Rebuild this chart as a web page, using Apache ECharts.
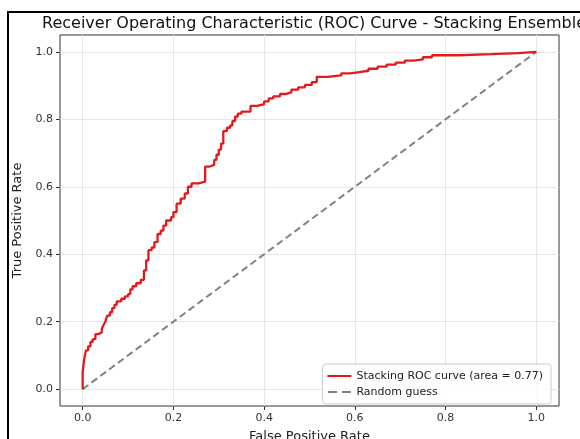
<!DOCTYPE html>
<html>
<head>
<meta charset="utf-8">
<script src="https://cdn.jsdelivr.net/npm/echarts@6/dist/echarts.min.js"></script>
<style>
  html, body { margin: 0; padding: 0; background: #fff; }
  #chart { width: 580px; height: 439px; }
</style>
</head>
<body>
<div id="chart"></div>
<script>
// ROC curve (staircase corners)
var rocFpr = [0, 0, 0.003, 0.003, 0.007, 0.007, 0.012, 0.012, 0.017, 0.017, 0.022, 0.022, 0.028, 0.028,
  0.034, 0.034, 0.042, 0.042, 0.046, 0.046, 0.05, 0.05, 0.054, 0.054, 0.06, 0.06, 0.065, 0.065,
  0.07, 0.07, 0.075, 0.075, 0.085, 0.085, 0.093, 0.093, 0.1, 0.1, 0.105, 0.105, 0.11, 0.11,
  0.118, 0.118, 0.128, 0.128, 0.135, 0.135, 0.14, 0.14, 0.145, 0.145, 0.152, 0.152, 0.158, 0.158,
  0.165, 0.165, 0.172, 0.172, 0.178, 0.178, 0.184, 0.184, 0.195, 0.195, 0.2, 0.2, 0.207, 0.207,
  0.216, 0.216, 0.225, 0.225, 0.232, 0.232, 0.24, 0.24, 0.255, 0.255, 0.27, 0.27, 0.28, 0.28,
  0.29, 0.29, 0.295, 0.295, 0.3, 0.3, 0.305, 0.305, 0.31, 0.31, 0.318, 0.318, 0.325, 0.325,
  0.33, 0.33, 0.336, 0.336, 0.342, 0.342, 0.35, 0.35, 0.37, 0.37, 0.385, 0.385, 0.4, 0.4,
  0.41, 0.41, 0.42, 0.42, 0.435, 0.435, 0.447, 0.447, 0.46, 0.46, 0.475, 0.475, 0.49, 0.49,
  0.505, 0.505, 0.516, 0.516, 0.54, 0.54, 0.57, 0.57, 0.59, 0.59, 0.61, 0.61, 0.63, 0.63,
  0.65, 0.65, 0.67, 0.67, 0.69, 0.69, 0.71, 0.71, 0.73, 0.73, 0.75, 0.75, 0.77, 0.77,
  0.83, 0.83, 0.9, 0.9, 0.96, 0.96, 1];
var rocTpr = [0, 0.05, 0.05, 0.086, 0.086, 0.115, 0.115, 0.127, 0.127, 0.14, 0.14, 0.148, 0.148, 0.163,
  0.163, 0.168, 0.168, 0.178, 0.178, 0.19, 0.19, 0.2, 0.2, 0.218, 0.218, 0.228, 0.228, 0.24,
  0.24, 0.25, 0.25, 0.26, 0.26, 0.268, 0.268, 0.275, 0.275, 0.282, 0.282, 0.296, 0.296, 0.305,
  0.305, 0.314, 0.314, 0.324, 0.324, 0.352, 0.352, 0.382, 0.382, 0.412, 0.412, 0.42, 0.42, 0.436,
  0.436, 0.46, 0.46, 0.47, 0.47, 0.485, 0.485, 0.5, 0.5, 0.51, 0.51, 0.525, 0.525, 0.55,
  0.55, 0.565, 0.565, 0.58, 0.58, 0.6, 0.6, 0.61, 0.61, 0.615, 0.615, 0.66, 0.66, 0.665,
  0.665, 0.68, 0.68, 0.695, 0.695, 0.71, 0.71, 0.728, 0.728, 0.765, 0.765, 0.775, 0.775, 0.782,
  0.782, 0.795, 0.795, 0.808, 0.808, 0.817, 0.817, 0.823, 0.823, 0.84, 0.84, 0.845, 0.845, 0.853,
  0.853, 0.862, 0.862, 0.868, 0.868, 0.875, 0.875, 0.88, 0.88, 0.888, 0.888, 0.895, 0.895, 0.902,
  0.902, 0.91, 0.91, 0.926, 0.926, 0.93, 0.93, 0.936, 0.936, 0.94, 0.94, 0.944, 0.944, 0.95,
  0.95, 0.956, 0.956, 0.962, 0.962, 0.968, 0.968, 0.974, 0.974, 0.978, 0.978, 0.984, 0.984, 0.99,
  0.99, 0.993, 0.993, 0.996, 0.996, 1, 1];

// chance line
var diagFpr = [0, 1];
var diagTpr = [0, 1];

var tickValues = [0, 0.2, 0.4, 0.6, 0.8, 1.0];

var rocName = 'Stacking ROC curve (area = 0.77)';
var diagName = 'Random guess';

function pairs(xs, ys) {
  return xs.map(function (x, i) { return [x, ys[i]]; });
}

var myChart = echarts.init(document.getElementById('chart'));

var font = 'DejaVu Sans';

option = {
  animation: false,
  backgroundColor: '#fff',
  title: {
    text: 'Receiver Operating Characteristic (ROC) Curve - Stacking Ensemble',
    left: 309,
    top: 11,
    textAlign: 'center',
    textStyle: { fontFamily: font, fontSize: 16, fontWeight: 'normal', color: '#111' }
  },
  grid: {
    left: 60, right: 21, top: 35, bottom: 33,
    outerBoundsMode: 'none',
    containLabel: false,
    show: true,
    borderColor: '#333',
    borderWidth: 1,
    backgroundColor: 'transparent'
  },
  legend: {
    orient: 'vertical',
    right: 29,
    top: 364,
    itemWidth: 24,
    itemHeight: 2,
    itemGap: 4,
    padding: [6, 8, 6, 5],
    borderColor: '#ccc',
    borderWidth: 1,
    borderRadius: 3,
    backgroundColor: 'rgba(255,255,255,0.8)',
    textStyle: { fontFamily: font, fontSize: 11, color: '#222', lineHeight: 12 },
    data: [
      { name: rocName, icon: 'rect' },
      { name: diagName, icon: 'path://M0,0h9v2h-9z M14,0h9v2h-9z' }
    ]
  },
  xAxis: {
    type: 'value',
    min: -0.05,
    max: 1.05,
    name: 'False Positive Rate',
    nameLocation: 'middle',
    nameGap: 24,
    nameTextStyle: { fontFamily: font, fontSize: 13, color: '#222' },
    axisLine: { show: false, onZero: false },
    axisTick: { show: true, inside: false, customValues: tickValues, length: 4, lineStyle: { color: '#333' } },
    axisLabel: {
      customValues: tickValues,
      fontFamily: font, fontSize: 11, color: '#333', margin: 7,
      formatter: function (v) { return v.toFixed(1); }
    },
    splitLine: { show: true, lineStyle: { color: '#e6e6e6', width: 1 } }
  },
  yAxis: {
    type: 'value',
    min: -0.05,
    max: 1.05,
    name: 'True Positive Rate',
    nameLocation: 'middle',
    nameGap: 30,
    nameTextStyle: { fontFamily: font, fontSize: 13, color: '#222' },
    axisLine: { show: false, onZero: false },
    axisTick: { show: true, inside: false, customValues: tickValues, length: 4, lineStyle: { color: '#333' } },
    axisLabel: {
      customValues: tickValues,
      fontFamily: font, fontSize: 11, color: '#333', margin: 7,
      formatter: function (v) { return v.toFixed(1); }
    },
    splitLine: { show: true, lineStyle: { color: '#e6e6e6', width: 1 } }
  },
  graphic: [
    {
      type: 'rect',
      shape: { x: 8, y: 12, width: 600, height: 460 },
      style: { fill: 'none', stroke: '#000', lineWidth: 2 },
      silent: true
    }
  ],
  series: [
    {
      name: rocName,
      type: 'line',
      data: pairs(rocFpr, rocTpr),
      showSymbol: false,
      symbol: 'none',
      lineStyle: { color: '#e31a1c', width: 2.3 },
      itemStyle: { color: '#e31a1c' },
      z: 3
    },
    {
      name: diagName,
      type: 'line',
      data: pairs(diagFpr, diagTpr),
      showSymbol: false,
      symbol: 'none',
      lineStyle: { color: '#808080', width: 2, type: [7, 4] },
      itemStyle: { color: '#808080' },
      z: 2
    }
  ]
};

myChart.setOption(option);
</script>
</body>
</html>
